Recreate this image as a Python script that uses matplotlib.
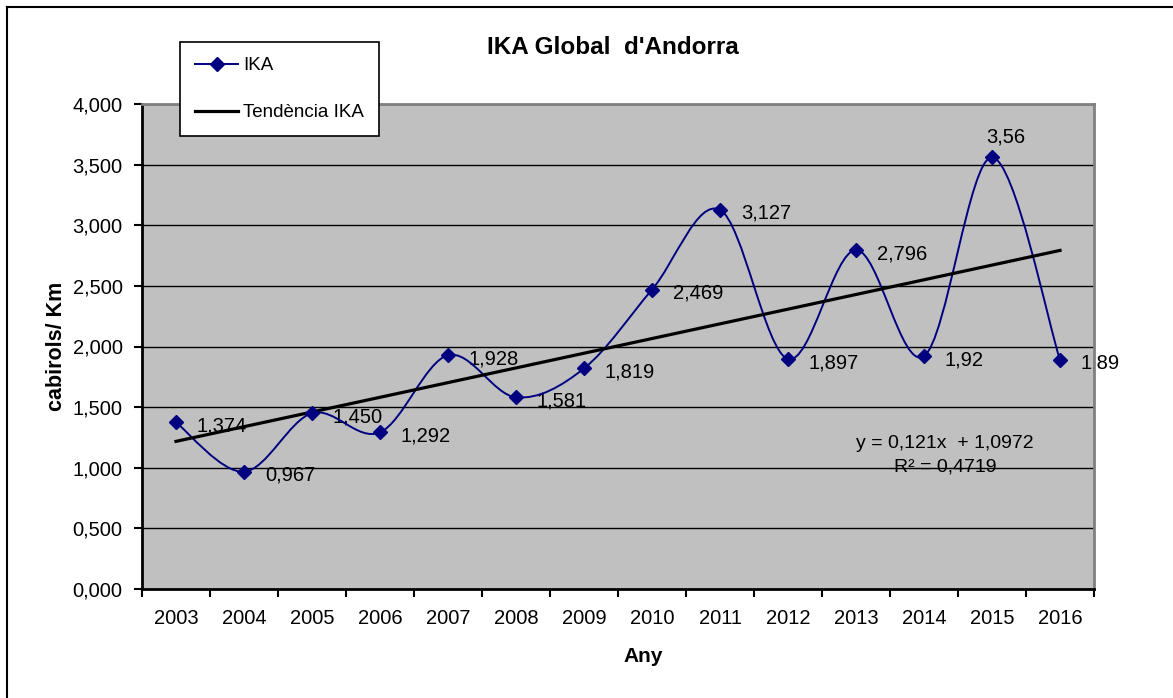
import matplotlib

matplotlib.use("Agg")
import matplotlib.pyplot as plt
import numpy as np
from matplotlib.lines import Line2D
from matplotlib.path import Path
from matplotlib.patches import PathPatch

plt.rcParams["font.family"] = ["Liberation Sans", "DejaVu Sans"]

years = ["2003", "2004", "2005", "2006", "2007", "2008", "2009",
         "2010", "2011", "2012", "2013", "2014", "2015", "2016"]
ika = [1.374, 0.967, 1.450, 1.292, 1.928, 1.581, 1.819,
       2.469, 3.127, 1.897, 2.796, 1.92, 3.56, 1.89]
point_labels = ["1,374", "0,967", "1,450", "1,292", "1,928", "1,581", "1,819",
                "2,469", "3,127", "1,897", "2,796", "1,92", "3,56", "1,89"]
y_ticks = [0.0, 0.5, 1.0, 1.5, 2.0, 2.5, 3.0, 3.5, 4.0]
trend_eq = "y = 0,121x  + 1,0972"
trend_r2 = "R² = 0,4719"

NAVY = "#000080"
W, H = 1173, 698


def smooth_path(xs, ys):
    # Excel-like smoothed line: cubic Bezier segments, Catmull-Rom tangents
    pts = np.column_stack([xs, ys]).astype(float)
    n = len(pts)
    verts = [pts[0]]
    codes = [Path.MOVETO]
    for i in range(n - 1):
        prev_pt = pts[i - 1] if i > 0 else pts[i]
        next_pt = pts[i + 2] if i + 2 < n else pts[i + 1]
        c1 = pts[i] + (pts[i + 1] - prev_pt) / 6.0
        c2 = pts[i + 1] - (next_pt - pts[i]) / 6.0
        verts += [c1, c2, pts[i + 1]]
        codes += [Path.CURVE4] * 3
    return Path(verts, codes)


fig = plt.figure(figsize=(W / 100, H / 100), dpi=100)
ax = fig.add_axes([142 / W, 1 - 589 / H, (1094 - 142) / W, (589 - 104) / H])
ax.set_facecolor("#C0C0C0")

x = np.arange(len(years))
ax.set_xlim(-0.5, len(years) - 0.5)
ax.set_ylim(0, 4)

for yv in y_ticks[1:]:
    ax.axhline(yv, color="black", linewidth=1.0, zorder=1)

ax.add_patch(PathPatch(smooth_path(x, ika), facecolor="none",
                       edgecolor=NAVY, linewidth=1.4, zorder=3))
ax.plot(x, ika, linestyle="none", marker="D", markersize=7,
        color=NAVY, zorder=4)

# linear trend, x counted from 1 as in the spreadsheet
slope, intercept = np.polyfit(x + 1, ika, 1)
ax.plot(x, slope * (x + 1) + intercept, color="black", linewidth=2.3, zorder=3)

for xi, yi, lab in zip(x, ika, point_labels):
    if lab == "3,56":
        ax.annotate(lab, (xi, yi), xytext=(10, 11), textcoords="offset points",
                    ha="center", va="baseline", fontsize=14.5, zorder=2)
    else:
        ax.annotate(lab, (xi, yi), xytext=(15, -6.5), textcoords="offset points",
                    ha="left", va="baseline", fontsize=14.5, zorder=2)

ax.text(0.8435, 0.299, trend_eq, transform=ax.transAxes,
        ha="center", va="center", fontsize=14, zorder=2)
ax.text(0.8435, 0.252, trend_r2, transform=ax.transAxes,
        ha="center", va="center", fontsize=14, zorder=2)

ax.set_yticks(y_ticks)
ax.set_yticklabels([f"{v:.3f}".replace(".", ",") for v in y_ticks], fontsize=14.5)
ax.set_xticks(np.arange(-0.5, len(years)), labels=[])
ax.set_xticks(x, labels=years, minor=True, fontsize=14.5)
ax.tick_params(axis="x", which="major", direction="out", length=6, width=1.5)
ax.tick_params(axis="x", which="minor", length=0, pad=14.5)
ax.tick_params(axis="y", direction="out", length=6, width=1.5, pad=8)

for side in ("left", "bottom"):
    ax.spines[side].set_color("black")
    ax.spines[side].set_linewidth(2)
for side in ("top", "right"):
    ax.spines[side].set_color("#808080")
    ax.spines[side].set_linewidth(2)

ax.set_ylabel("cabirols/ Km", fontsize=15.5, fontweight="bold", labelpad=4)
ax.set_xlabel("Any", fontsize=15, fontweight="bold")
ax.xaxis.set_label_coords((643 - 142) / 952, -(647 - 589) / 485)

fig.text(613 / W, 1 - 48 / H, "IKA Global  d'Andorra", ha="center", va="center",
         fontsize=17.5, fontweight="bold")

handles = [
    Line2D([], [], color=NAVY, linewidth=1.4, marker="D", markersize=7),
    Line2D([], [], color="black", linewidth=2.3),
]
leg = fig.legend(handles, ["IKA", "Tendència IKA"], loc="upper left",
                 bbox_to_anchor=(180 / W, 1 - 42 / H), fontsize=13.5,
                 frameon=True, fancybox=False, edgecolor="black", framealpha=1,
                 handlelength=2.3, handletextpad=0.25, labelspacing=1.6,
                 borderpad=0.8, borderaxespad=0)
leg.get_frame().set_linewidth(1.2)
leg.set_zorder(10)

# outer chart-area border (top and left edges are visible in the crop)
fig.add_artist(Line2D([7 / W, 7 / W], [0, 1 - 7 / H], color="black",
                      linewidth=1.5, transform=fig.transFigure))
fig.add_artist(Line2D([7 / W, 1], [1 - 7 / H, 1 - 7 / H], color="black",
                      linewidth=1.5, transform=fig.transFigure))

fig.savefig("out.png", dpi=100)
